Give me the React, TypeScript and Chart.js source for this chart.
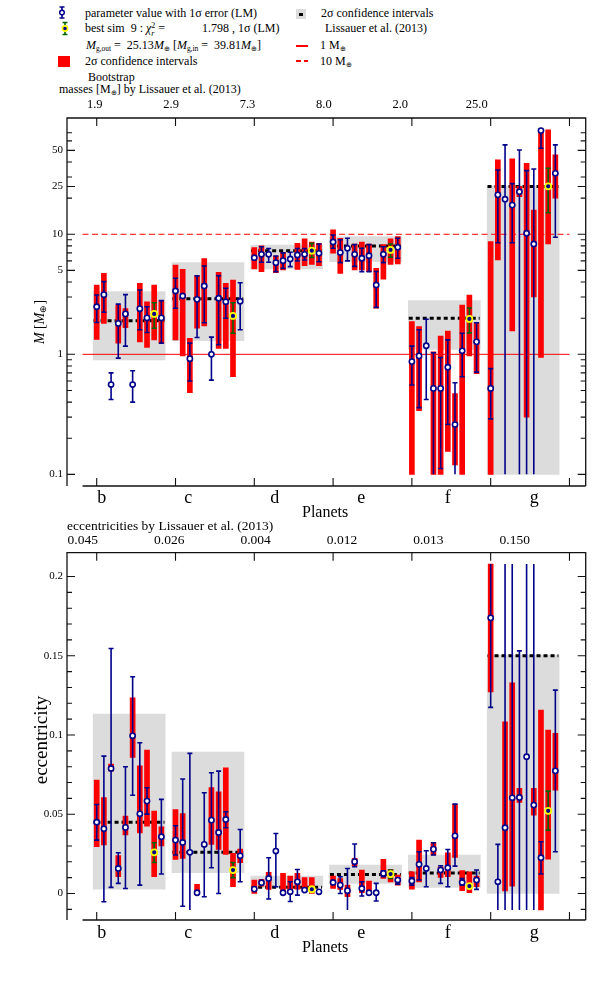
import React, { useEffect, useRef } from 'react';
import { Chart, registerables } from 'chart.js';

Chart.register(...registerables);

const FONT = '"Liberation Serif", "Times New Roman", serif';
const NAVY = '#00008b';
const RED = '#ff0000';
const GRAY = '#dcdcdc';
const GREEN = '#006400';
const YELLOW = '#ffff00';

const PLANETS = ['b', 'c', 'd', 'e', 'f', 'g'];
const BEST_SIM_INDEX = 8;
const SUB_STEP = 0.0912;
const X_TICKS = [0, 1, 2, 3, 4, 5, 6];

// ---------- masses ----------
const MASS_LISSAUER = [1.9, 2.9, 7.3, 8.0, 2.0, 25.0];
const MASS_LISSAUER_LABELS = ['1.9', '2.9', '7.3', '8.0', '2.0', '25.0'];
const MASS_BOX_LO = [0.9, 1.3, 5.14, 5.91, 1.1, 0.1];
const MASS_BOX_HI = [3.33, 5.8, 8.14, 9.55, 2.8, 25.3];
const MASS_VALUE = [
  [2.49, 3.14, 0.56, 1.81, 2.17, 0.56, 2.4, 2.01, 2.17, 2.01],
  [3.37, 3.06, 0.92, 2.87, 3.71, 1.0, 2.93, 2.74, 2.09, 2.77],
  [6.38, 6.81, 6.81, 5.8, 6.03, 6.22, 6.72, 6.81, 7.3, 6.94],
  [8.63, 7.04, 7.64, 6.81, 6.31, 6.63, 3.78, 6.81, 7.4, 7.79],
  [0.87, 0.97, 1.18, 0.52, 0.52, 0.78, 0.26, 1.07, 1.97, 1.27],
  [0.52, 21.3, 19.6, 17.5, 22.6, 10.2, 8.3, 73.0, 25.1, 32.2],
];
const MASS_ERR_LO = [
  [1.84, 2.24, 0.42, 0.93, 1.17, 0.4, 1.6, 1.52, 1.65, 1.24],
  [2.42, null, 0.6, 1.38, 1.83, 0.61, 1.2, 2.0, 1.5, 1.6],
  [null, 5.84, 5.84, 4.88, 5.2, 5.38, 5.99, 6.1, 6.4, 5.9],
  [7.64, 5.8, 6.0, 5.4, 4.88, 4.88, 2.46, 5.8, 6.43, 6.31],
  [0.555, 0.36, 0.42, 0.05, 0.112, 0.26, 0.05, 0.65, 1.51, 0.71],
  [0.29, 8.5, 0.05, 8.5, 0.05, 0.05, 0.05, 52.0, 15.1, 9.44],
];
const MASS_ERR_HI = [
  [3.12, 4.03, 0.7, 2.62, 3.14, 0.73, 3.43, 2.49, 2.69, 2.8],
  [4.3, null, 1.24, 4.5, 5.44, 1.39, 4.52, 3.55, 2.69, 3.95],
  [null, 7.88, 7.6, 6.59, 7.0, 7.08, 7.6, 7.6, 8.4, 8.3],
  [9.87, 9.0, 9.26, 8.2, 7.64, 8.2, 4.9, 7.88, 8.3, 9.26],
  [1.17, 1.6, 1.96, 1.03, 0.94, 1.32, 0.58, 1.5, 2.43, 1.83],
  [0.76, 34.3, 55.5, 26.4, 50.4, 33.9, 35.0, 74.0, 35.5, 55.5],
];
const MASS_BAR_LO = [
  [1.33, 1.81, null, 1.24, 1.67, null, 1.27, 1.14, 1.32, 1.24],
  [1.32, 0.97, 0.48, 1.65, 1.72, null, 1.12, 1.12, 0.65, null],
  [5.14, 4.88, null, 4.79, 5.04, null, 5.1, 5.47, 5.6, 5.47],
  [6.95, 4.73, null, 5.04, 5.04, 4.88, 2.42, 4.22, 5.6, 5.66],
  [0.1, 0.34, null, 0.1, 0.1, 0.155, 0.12, 0.1, 0.97, 0.69],
  [0.1, 6.1, null, 1.57, 20.6, 0.3, 3.0, 0.94, 8.3, 20.0],
];
const MASS_BAR_HI = [
  [3.78, 4.73, null, 2.57, 2.4, null, 3.9, 2.74, 3.78, 2.8],
  [5.55, 5.1, 1.36, 4.5, 6.26, null, 4.82, 3.9, 4.16, null],
  [7.73, 8.03, null, 6.59, 7.08, null, 8.41, 9.14, 8.6, 8.4],
  [10.9, 9.26, null, 8.3, 8.6, 8.3, 5.21, 8.2, 9.14, 9.55],
  [1.87, 1.7, null, 1.05, 1.42, 1.56, 0.47, 2.57, 3.12, 1.83],
  [8.7, 41.6, null, 42.4, 25.1, 39.0, 15.9, 71.6, 74.0, 45.8],
];
const MASS_TICKS = [0.1, 0.2, 0.3, 0.4, 0.5, 0.6, 0.7, 0.8, 0.9, 1, 2, 3, 4, 5, 6, 7, 8, 9, 10, 20, 25, 30, 40, 50, 60, 70];
const MASS_TICK_LABELS = [0.1, 1, 5, 10, 25, 50];
const MASS_REF_LINES = [1, 10];

// ---------- eccentricities ----------
const ECC_LISSAUER = [0.045, 0.026, 0.004, 0.012, 0.013, 0.15];
const ECC_LISSAUER_LABELS = ['0.045', '0.026', '0.004', '0.012', '0.013', '0.150'];
const ECC_BOX_LO = [0.0028, 0.0131, 0.0039, 0.0064, 0.0039, 0.0];
const ECC_BOX_HI = [0.1132, 0.0892, 0.011, 0.018, 0.0243, 0.1504];
const ECC_VALUE = [
  [0.045, 0.0409, 0.0789, 0.0158, 0.0417, 0.0995, 0.0503, 0.0583, 0.026, 0.0358],
  [0.0337, 0.0322, 0.026, 0.0005, 0.031, 0.0463, 0.0385, 0.0467, 0.0148, 0.0238],
  [0.0028, 0.0068, 0.0095, 0.0268, 0.0005, 0.0011, 0.0074, 0.0022, 0.0027, 0.0011],
  [0.007, 0.0053, 0.0018, 0.0201, 0.0032, 0.0005, 0.0005, 0.0127, 0.0123, 0.0085],
  [0.0079, 0.0184, 0.0158, 0.028, 0.0148, 0.0163, 0.0364, 0.007, 0.0047, 0.0085],
  [0.1739, 0.0074, 0.0415, 0.0604, 0.0606, 0.0863, 0.0558, 0.0226, 0.0522, 0.0774],
];
const ECC_ERR_LO = [
  [0.0337, -0.0052, 0.0039, 0.0064, 0.0032, 0.062, 0.0053, 0.0501, 0.0196, 0.0123],
  [0.0243, -0.008, -0.02, null, -0.002, 0.0163, 0.0, 0.0415, 0.01, 0.0074],
  [null, null, -0.0035, 0.0043, null, -0.005, -0.001, null, null, null],
  [null, 0.0, -0.02, 0.0169, -0.0016, null, -0.0047, 0.0106, 0.0095, 0.0059],
  [0.0053, 0.0085, 0.0043, 0.0243, 0.0064, 0.0043, 0.0173, 0.0053, null, 0.0026],
  [0.1174, -0.02, -0.02, -0.02, -0.02, -0.02, -0.02, 0.0123, 0.04, 0.0264],
];
const ECC_ERR_HI = [
  [0.0562, 0.0867, 0.1546, 0.0257, 0.08, 0.1367, 0.0951, 0.0667, 0.032, 0.0594],
  [0.0428, 0.0722, 0.0884, null, 0.0636, 0.0762, 0.0772, 0.0516, 0.0196, 0.0404],
  [null, null, 0.0226, 0.0379, null, 0.0074, 0.0152, null, null, null],
  [null, 0.0106, 0.0158, 0.0312, 0.0074, null, 0.0064, 0.0144, 0.0148, 0.0095],
  [0.01, 0.0264, 0.027, 0.032, 0.0175, 0.0278, 0.0564, 0.0095, null, 0.0148],
  [0.22, 0.031, 0.22, 0.22, 0.1531, 0.22, 0.22, 0.0327, 0.0646, 0.1283],
];
const ECC_BAR_LO = [
  [0.0295, 0.0306, 0.0772, 0.0106, 0.0369, 0.0858, 0.0383, 0.0425, 0.0106, 0.0301],
  [0.0215, 0.0222, null, -0.0005, 0.0295, 0.031, 0.0278, 0.0247, 0.0043, 0.0194],
  [0.0, 0.0047, 0.0026, null, 0.0005, 0.0005, 0.0027, 0.0022, 0.0, null],
  [0.0032, 0.0026, -0.002, 0.0175, 0.0005, -0.0006, null, 0.0095, 0.0074, 0.0053],
  [0.0028, 0.0074, null, 0.0243, 0.0102, 0.0106, 0.0228, 0.0018, 0.0005, 0.0043],
  [0.1272, null, 0.0016, 0.0047, 0.0575, null, 0.0495, -0.0104, 0.0217, 0.0652],
];
const ECC_BAR_HI = [
  [0.0715, 0.0606, 0.0816, 0.024, 0.0488, 0.1235, 0.0806, 0.0905, 0.052, 0.0421],
  [0.053, 0.0505, null, 0.0058, 0.0322, 0.0669, 0.0642, 0.0793, 0.0253, 0.028],
  [0.0085, 0.009, 0.0133, null, 0.0127, 0.011, 0.0127, 0.01, 0.01, null],
  [0.011, 0.0095, 0.0053, 0.0222, 0.0148, 0.0079, null, 0.0215, 0.0152, 0.0116],
  [0.0137, 0.0337, null, 0.032, 0.0169, 0.0257, 0.0564, 0.0144, 0.0137, 0.011],
  [0.2078, null, 0.1083, 0.1329, 0.0663, null, 0.0663, 0.1157, 0.1031, 0.101],
];
const ECC_TICKS = [-0.01, 0, 0.01, 0.02, 0.03, 0.04, 0.05, 0.06, 0.07, 0.08, 0.09, 0.1, 0.11, 0.12, 0.13, 0.14, 0.15, 0.16, 0.17, 0.18, 0.19, 0.2];
const ECC_TICK_LABELS = [0, 0.05, 0.1, 0.15, 0.2];

type Grid = (number | null)[][];
type Panel = {
  val: number[][]; errLo: Grid; errHi: Grid; barLo: Grid; barHi: Grid;
  boxLo: number[]; boxHi: number[]; ref: number[];
  clipLo: number; clipHi: number; log: boolean; min: number; max: number;
  ticks: number[]; tickLabels: number[]; refLines: number[];
};

const MASS_PANEL: Panel = {
  val: MASS_VALUE, errLo: MASS_ERR_LO, errHi: MASS_ERR_HI, barLo: MASS_BAR_LO, barHi: MASS_BAR_HI,
  boxLo: MASS_BOX_LO, boxHi: MASS_BOX_HI, ref: MASS_LISSAUER, clipLo: 0.1, clipHi: 100,
  log: true, min: 0.08, max: 93, ticks: MASS_TICKS, tickLabels: MASS_TICK_LABELS, refLines: MASS_REF_LINES,
};
const ECC_PANEL: Panel = {
  val: ECC_VALUE, errLo: ECC_ERR_LO, errHi: ECC_ERR_HI, barLo: ECC_BAR_LO, barHi: ECC_BAR_HI,
  boxLo: ECC_BOX_LO, boxHi: ECC_BOX_HI, ref: ECC_LISSAUER, clipLo: -0.0104, clipHi: 0.2078,
  log: false, min: -0.0167, max: 0.215, ticks: ECC_TICKS, tickLabels: ECC_TICK_LABELS, refLines: [],
};

const xOf = (p: number, j: number) => p + j * SUB_STEP;

function buildDatasets(panel: Panel): any[] {
  const ds: any[] = [];
  ds.push({
    type: 'bar', label: 'box',
    data: PLANETS.map((_, p) => ({ x: p + 0.412, y: [panel.boxLo[p], panel.boxHi[p]] })),
    backgroundColor: GRAY, borderWidth: 0, barThickness: 72, grouped: false, order: 10,
  });
  panel.refLines.forEach((v, i) => {
    ds.push({
      type: 'line', label: 'ref' + i,
      data: [{ x: -0.18, y: v }, { x: 6.0, y: v }],
      borderColor: RED, borderWidth: 1, borderDash: i === 0 ? [] : [6, 3.5],
      pointRadius: 0, fill: false, order: 9,
    });
  });
  const dash: any[] = [];
  PLANETS.forEach((_, p) => {
    dash.push({ x: p - 0.04, y: panel.ref[p] }, { x: p + 0.86, y: panel.ref[p] }, { x: p + 0.9, y: null });
  });
  ds.push({
    type: 'line', label: 'lissauer', data: dash, borderColor: '#000', borderWidth: 3,
    borderDash: [4, 3], borderCapStyle: 'butt', pointRadius: 0, spanGaps: false, fill: false, order: 8,
  });
  const bars: any[] = [];
  panel.barLo.forEach((row, p) => row.forEach((lo, j) => {
    const hi = panel.barHi[p][j];
    if (lo != null && hi != null) bars.push({ x: xOf(p, j), y: [lo, hi] });
  }));
  ds.push({
    type: 'bar', label: 'bootstrap', data: bars, backgroundColor: RED, borderWidth: 0,
    barThickness: 5, grouped: false, order: 7,
  });
  const pts: any[] = [];
  const best: any[] = [];
  panel.val.forEach((row, p) => row.forEach((v, j) => {
    (j === BEST_SIM_INDEX ? best : pts).push({ x: xOf(p, j), y: v });
  }));
  ds.push({
    type: 'line', label: 'points', data: pts, showLine: false,
    pointRadius: 2.6, pointBackgroundColor: '#ffffff', pointBorderColor: NAVY, pointBorderWidth: 1.6, order: 2,
  });
  ds.push({
    type: 'line', label: 'best', data: best, showLine: false,
    pointRadius: 3, pointBackgroundColor: NAVY, pointBorderColor: YELLOW, pointBorderWidth: 1.8, order: 1,
  });
  return ds;
}

function makeErrPlugin(panel: Panel) {
  return {
    id: 'errbars',
    beforeDatasetDraw(chart: any, args: any) {
      if (chart.data.datasets[args.index].label !== 'points') return;
      const ctx = chart.ctx;
      const xs = chart.scales.x;
      const ys = chart.scales.y;
      const a = chart.chartArea;
      ctx.save();
      ctx.beginPath();
      ctx.rect(a.left, a.top, a.right - a.left, a.bottom - a.top);
      ctx.clip();
      ctx.lineWidth = 1.6;
      panel.val.forEach((row, p) => row.forEach((_, j) => {
        const lo = panel.errLo[p][j];
        const hi = panel.errHi[p][j];
        if (lo == null || hi == null) return;
        const px = xs.getPixelForValue(xOf(p, j));
        const y1 = ys.getPixelForValue(Math.max(lo, panel.clipLo));
        const y2 = ys.getPixelForValue(Math.min(hi, panel.clipHi));
        ctx.strokeStyle = j === BEST_SIM_INDEX ? GREEN : NAVY;
        ctx.beginPath();
        ctx.moveTo(px, y1);
        ctx.lineTo(px, y2);
        if (lo >= panel.clipLo) { ctx.moveTo(px - 2.5, y1); ctx.lineTo(px + 2.5, y1); }
        if (hi <= panel.clipHi) { ctx.moveTo(px - 2.5, y2); ctx.lineTo(px + 2.5, y2); }
        ctx.stroke();
      }));
      ctx.restore();
    },
  };
}

function makeFramePlugin(panel: Panel) {
  return {
    id: 'frame',
    afterDraw(chart: any) {
      const ctx = chart.ctx;
      const a = chart.chartArea;
      const xs = chart.scales.x;
      const ys = chart.scales.y;
      ctx.save();
      ctx.strokeStyle = '#111';
      ctx.lineWidth = 1.3;
      ctx.beginPath();
      ctx.moveTo(a.left, a.bottom);
      ctx.lineTo(a.left, a.top);
      ctx.lineTo(a.right, a.top);
      ctx.lineTo(a.right, a.bottom);
      ctx.moveTo(xs.getPixelForValue(-0.18), a.bottom);
      ctx.lineTo(a.right, a.bottom);
      ctx.stroke();
      ctx.lineWidth = 1.1;
      ctx.beginPath();
      X_TICKS.forEach((v) => {
        const px = xs.getPixelForValue(v);
        ctx.moveTo(px, a.top); ctx.lineTo(px, a.top + 8);
        ctx.moveTo(px, a.bottom); ctx.lineTo(px, a.bottom - 8);
      });
      ys.ticks.forEach((t: any) => {
        const py = ys.getPixelForValue(t.value);
        const len = panel.tickLabels.includes(t.value) ? 8 : 5;
        ctx.moveTo(a.left, py); ctx.lineTo(a.left + len, py);
        ctx.moveTo(a.right, py); ctx.lineTo(a.right - len, py);
      });
      ctx.stroke();
      ctx.restore();
    },
  };
}

function makeConfig(panel: Panel, padTop: number, padBottom: number): any {
  return {
    type: 'bar',
    data: { datasets: buildDatasets(panel) },
    options: {
      animation: false,
      responsive: false,
      devicePixelRatio: 1,
      events: [],
      layout: { padding: { left: 0, right: 6.3, top: padTop, bottom: padBottom } },
      plugins: { legend: { display: false }, tooltip: { enabled: false } },
      scales: {
        x: { type: 'linear', min: -0.377, max: 6.206, display: false, offset: false },
        y: {
          type: panel.log ? 'logarithmic' : 'linear',
          min: panel.min, max: panel.max, position: 'left',
          grid: { display: false, drawTicks: false },
          border: { display: false },
          afterBuildTicks: (s: any) => { s.ticks = panel.ticks.map((v) => ({ value: v })); },
          afterFit: (s: any) => { s.width = 67; },
          ticks: {
            autoSkip: false, padding: 4, color: '#000',
            font: { family: FONT, size: 11 },
            callback: (v: any) => (panel.tickLabels.includes(v) ? String(v) : ''),
          },
        },
      },
    },
    plugins: [makeErrPlugin(panel), makeFramePlugin(panel)],
  };
}

function PanelChart({ panel, top, padTop, padBottom }: { panel: Panel; top: number; padTop: number; padBottom: number }) {
  const ref = useRef<HTMLCanvasElement>(null);
  useEffect(() => {
    if (!ref.current) return;
    const chart = new Chart(ref.current, makeConfig(panel, padTop, padBottom));
    return () => chart.destroy();
  }, []);
  return (
    <canvas ref={ref} width={592} height={400}
      style={{ position: 'absolute', left: 0, top, width: 592, height: 400 }} />
  );
}

function T({ x, base, size, children, center, style }: any) {
  return (
    <div style={{
      position: 'absolute', left: x, top: base - 0.8375 * size, fontSize: size, lineHeight: 1,
      whiteSpace: 'nowrap', transform: center ? 'translateX(-50%)' : undefined, ...style,
    }}>{children}</div>
  );
}

const sub = (s: string) => (
  <span style={{ fontSize: '0.62em', verticalAlign: '-0.25em', lineHeight: 0 }}>{s}</span>
);

function Legend() {
  return (
    <>
      <svg style={{ position: 'absolute', left: 57, top: 5 }} width={10} height={15}>
        <path d="M5 2 V13 M2.5 2 H7.5 M2.5 13 H7.5" stroke={NAVY} strokeWidth={1.6} fill="none" />
        <circle cx={5} cy={7.5} r={2.3} fill="#fff" stroke={NAVY} strokeWidth={1.5} />
      </svg>
      <T x={85} base={17} size={12}>parameter value with 1σ error (LM)</T>
      <svg style={{ position: 'absolute', left: 60, top: 20 }} width={10} height={17}>
        <path d="M5 2.5 V14.5 M2.5 2.5 H7.5 M2.5 14.5 H7.5" stroke={GREEN} strokeWidth={1.6} fill="none" />
        <circle cx={5} cy={8.5} r={2.6} fill={NAVY} stroke={YELLOW} strokeWidth={1.6} />
      </svg>
      <T x={85} base={32.5} size={12}>
        best sim&nbsp; 9 : <i>χ</i>
        <span style={{ display: 'inline-block', fontSize: 8, lineHeight: '8px', verticalAlign: '-4px', textAlign: 'left' }}>2<br /><i>r</i></span> =
      </T>
      <T x={202} base={32.5} size={12}>1.798 , 1σ (LM)</T>
      <T x={86} base={49.5} size={12}>
        <i>M</i>{sub('g,out')} = &nbsp;25.13<i>M</i>{sub('⊕')} [<i>M</i>{sub('g,in')} = &nbsp;39.81<i>M</i>{sub('⊕')}]
      </T>
      <div style={{ position: 'absolute', left: 58, top: 56, width: 12, height: 11, background: RED }} />
      <T x={85} base={65.5} size={12}>2σ confidence intervals</T>
      <T x={88} base={81} size={12}>Bootstrap</T>

      <div style={{ position: 'absolute', left: 296, top: 9, width: 10, height: 10, background: GRAY }}>
        <div style={{ position: 'absolute', left: 3, top: 3.5, width: 4, height: 3, background: '#000' }} />
      </div>
      <T x={321} base={17} size={12}>2σ confidence intervals</T>
      <T x={325} base={32.5} size={12}>Lissauer et al. (2013)</T>
      <div style={{ position: 'absolute', left: 296, top: 45, width: 12, height: 1.5, background: RED }} />
      <T x={320} base={49.5} size={12}>1 M{sub('⊕')}</T>
      <div style={{ position: 'absolute', left: 296, top: 60, width: 4.5, height: 1.5, background: RED }} />
      <div style={{ position: 'absolute', left: 303.5, top: 60, width: 4.5, height: 1.5, background: RED }} />
      <T x={320} base={65.5} size={12}>10 M{sub('⊕')}</T>
    </>
  );
}

const MASS_LABEL_X0 = 94.7;
const MASS_LABEL_DX = 76.4;
const ECC_LABEL_X0 = 82.8;
const ECC_LABEL_DX = 86.4;
const PLANET_LABEL_X0 = 101.7;
const PLANET_LABEL_DX = 86.5;

export default function App() {
  return (
    <div style={{
      position: 'absolute', left: 0, top: 0, width: 592, height: 988, background: '#fff',
      fontFamily: FONT, color: '#000', overflow: 'hidden',
    }}>
      <PanelChart panel={MASS_PANEL} top={100} padTop={18} padBottom={14} />
      <PanelChart panel={ECC_PANEL} top={535} padTop={17.7} padBottom={15} />
      <Legend />
      <T x={59} base={93.5} size={12}>masses [M{sub('⊕')}] by Lissauer et al. (2013)</T>
      {MASS_LISSAUER_LABELS.map((s, i) => (
        <T key={'m' + i} x={MASS_LABEL_X0 + i * MASS_LABEL_DX} base={108} size={12.5} center>{s}</T>
      ))}
      {PLANETS.map((s, i) => (
        <T key={'p1' + i} x={PLANET_LABEL_X0 + i * PLANET_LABEL_DX} base={503} size={18} center>{s}</T>
      ))}
      <T x={302} base={517} size={16}>Planets</T>
      <T x={67} base={530.5} size={13.5}>eccentricities by Lissauer et al. (2013)</T>
      {ECC_LISSAUER_LABELS.map((s, i) => (
        <T key={'e' + i} x={ECC_LABEL_X0 + i * ECC_LABEL_DX} base={544.5} size={13.5} center>{s}</T>
      ))}
      {PLANETS.map((s, i) => (
        <T key={'p2' + i} x={PLANET_LABEL_X0 + i * PLANET_LABEL_DX} base={938} size={18} center>{s}</T>
      ))}
      <T x={302} base={952} size={16}>Planets</T>
      <div style={{
        position: 'absolute', left: 40, top: 322, transform: 'translate(-50%,-50%) rotate(-90deg)',
        whiteSpace: 'nowrap', fontSize: 14, lineHeight: 1,
      }}><i>M</i> [<i>M</i>{sub('⊕')}]</div>
      <div style={{
        position: 'absolute', left: 40, top: 740, transform: 'translate(-50%,-50%) rotate(-90deg)',
        whiteSpace: 'nowrap', fontSize: 19, lineHeight: 1,
      }}>eccentricity</div>
    </div>
  );
}
